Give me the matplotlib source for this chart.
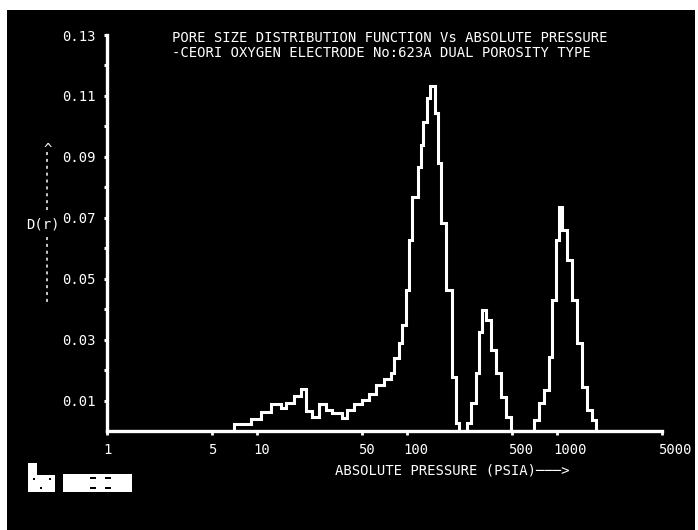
import matplotlib
matplotlib.use("Agg")
import matplotlib.pyplot as plt
from matplotlib.patches import Rectangle
from matplotlib.lines import Line2D
import matplotlib.transforms as mtransforms

# ---------------- data ----------------
# left edges of each step (absolute pressure, PSIA); last entry closes the final step
pressure_edges = [7.0, 9.1, 10.6, 12.4, 14.5, 15.6, 17.6, 19.7, 21.2, 23.3,
                  25.9, 28.8, 31.6, 36.9, 39.8, 44.3, 50.1, 55.8, 62.1, 70.2,
                  78.2, 81.9, 88.4, 92.6, 98.5, 103, 108, 118, 124, 128,
                  136, 142, 154, 161, 169, 182, 200, 212, 222,
                  251, 267, 288, 302, 316, 336, 363, 392, 423, 457, 494,
                  703, 759, 819, 884, 926, 985, 1031, 1080, 1166, 1259,
                  1359, 1468, 1585, 1711, 1820]
# pore size distribution function D(r) for each step
d_values = [0.0023, 0.0039, 0.0063, 0.0089, 0.0076, 0.0092, 0.0115, 0.0138, 0.0066, 0.0046,
            0.0089, 0.0069, 0.0059, 0.0043, 0.0069, 0.0089, 0.0102, 0.0122, 0.0151, 0.0171,
            0.0190, 0.0240, 0.0289, 0.0348, 0.0463, 0.0627, 0.0769, 0.0867, 0.0939, 0.1015,
            0.1093, 0.1132, 0.1044, 0.0880, 0.0683, 0.0463, 0.0177, 0.0026, 0.0,
            0.0026, 0.0092, 0.0190, 0.0325, 0.0397, 0.0365, 0.0266, 0.0190, 0.0111, 0.0046, 0.0,
            0.0036, 0.0092, 0.0135, 0.0243, 0.0430, 0.0627, 0.0735, 0.0660, 0.0561, 0.0430,
            0.0289, 0.0145, 0.0069, 0.0036]

x_ticks = [1, 5, 10, 50, 100, 500, 1000, 5000]
x_tick_labels = ["1", "5", "10", "50", "100", "500", "1000", "5000"]
y_major = [0.01, 0.03, 0.05, 0.07, 0.09, 0.11, 0.13]
y_major_labels = ["0.01", "0.03", "0.05", "0.07", "0.09", "0.11", "0.13"]
y_minor = [0.02, 0.04, 0.06, 0.08, 0.10, 0.12]

title_1 = "PORE SIZE DISTRIBUTION FUNCTION Vs ABSOLUTE PRESSURE"
title_2 = "-CEORI OXYGEN ELECTRODE No:623A DUAL POROSITY TYPE"
x_label = "ABSOLUTE PRESSURE (PSIA)\u2500\u2500\u2500>"
y_label = "D(r)"

# ---------------- figure ----------------
W, H = 698, 530
MONO = "DejaVu Sans Mono"
FG = "white"

fig = plt.figure(figsize=(W / 100, H / 100), dpi=100, facecolor="white")


def fx(px):
    return px / W


def fy(py):
    return 1 - py / H


# black screen
fig.patches.append(Rectangle((fx(7), 0), fx(695) - fx(7), fy(10), transform=fig.transFigure,
                             facecolor="black", edgecolor="none", zorder=-10))

ax_left, ax_right, ax_top, ax_bottom = 107, 662, 35, 431
ax = fig.add_axes([fx(ax_left), fy(ax_bottom), fx(ax_right) - fx(ax_left), fy(ax_top) - fy(ax_bottom)])
ax.set_facecolor("none")
ax.set_xscale("log")
ax.set_xlim(1, 5000)
ax.set_ylim(0, 0.13)

ax.stairs(d_values, pressure_edges, baseline=0, color=FG, lw=2.2, zorder=3)

for s in ("top", "right"):
    ax.spines[s].set_visible(False)
for s in ("left", "bottom"):
    ax.spines[s].set_color(FG)
    ax.spines[s].set_linewidth(2.4)

ax.set_xticks(x_ticks)
ax.set_xticklabels(x_tick_labels)
ax.xaxis.set_minor_locator(matplotlib.ticker.NullLocator())
ax.tick_params(axis="x", which="major", direction="out", length=3, width=2, color=FG,
               labelcolor=FG, pad=6, labelsize=10)
offset = mtransforms.ScaledTranslation(-4 / 100, 0, fig.dpi_scale_trans)
for lab in ax.get_xticklabels():
    lab.set_fontfamily(MONO)
    lab.set_horizontalalignment("left")
    lab.set_transform(lab.get_transform() + offset)

ax.set_yticks(y_major)
ax.set_yticklabels(y_major_labels)
ax.set_yticks(y_minor, minor=True)
ax.tick_params(axis="y", which="both", direction="out", length=2.5, width=2.2, color=FG,
               labelcolor=FG, pad=6, labelsize=10)
for lab in ax.get_yticklabels():
    lab.set_fontfamily(MONO)

ax.set_xlabel(x_label, color=FG, fontsize=10, fontfamily=MONO, ha="left", va="center")
ax.xaxis.set_label_coords((335 - ax_left) / (ax_right - ax_left), (ax_bottom - 470) / (ax_bottom - ax_top))
ax.set_ylabel(y_label, color=FG, fontsize=10, fontfamily=MONO, rotation=0, ha="left", va="center")
ax.yaxis.set_label_coords((26 - ax_left) / (ax_right - ax_left), (ax_bottom - 225) / (ax_bottom - ax_top))

# titles
fig.text(fx(172), fy(38), title_1, color=FG, fontsize=10, fontfamily=MONO, ha="left", va="center")
fig.text(fx(172), fy(53), title_2, color=FG, fontsize=10, fontfamily=MONO, ha="left", va="center")

# upward arrow marker next to the y label
fig.text(fx(48), fy(154), "^", color=FG, fontsize=10, fontfamily=MONO, ha="center", va="baseline")
for y0, y1 in ((152, 210), (237, 303)):
    fig.add_artist(Line2D([fx(47), fx(47)], [fy(y0), fy(y1)], transform=fig.transFigure,
                          color=FG, lw=1.1, linestyle=(0, (2, 2.5))))

# screen status marks (bottom left)
for (x0, y0, x1, y1) in ((28, 463, 37, 490), (28, 475, 55, 492), (63, 474, 132, 492)):
    fig.patches.append(Rectangle((fx(x0), fy(y1)), fx(x1) - fx(x0), fy(y0) - fy(y1),
                                 transform=fig.transFigure, facecolor=FG, edgecolor="none"))
for (x0, y0, x1, y1) in ((33, 478, 35, 480), (40, 487, 42, 489), (49, 478, 51, 480),
                         (90, 477, 96, 479), (90, 487, 96, 489), (105, 477, 111, 479),
                         (105, 487, 111, 489)):
    fig.patches.append(Rectangle((fx(x0), fy(y1)), fx(x1) - fx(x0), fy(y0) - fy(y1),
                                 transform=fig.transFigure, facecolor="black", edgecolor="none"))

fig.savefig("out.png", dpi=100, facecolor=fig.get_facecolor())
